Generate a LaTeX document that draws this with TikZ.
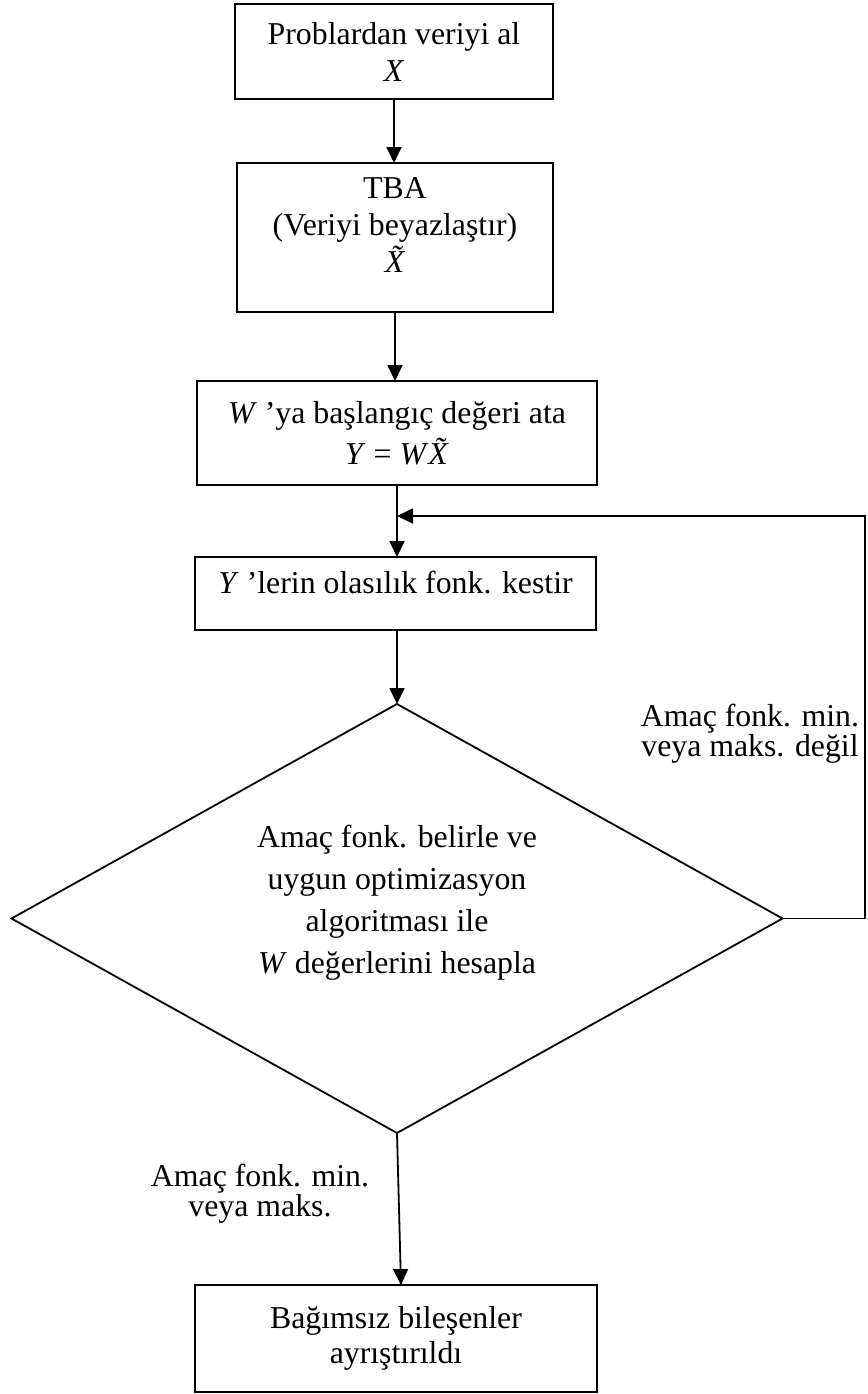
\documentclass[tikz,border=0pt]{standalone}
\usepackage{fontspec}
\setmainfont{Liberation Serif}
\usetikzlibrary{arrows.meta,shapes.geometric}
\newcommand\Xtil{\leavevmode\setbox0\hbox{\textit{X}}\rlap{\hbox to \wd0{\hss\hspace{0.12em}\raisebox{0.16em}{\textit{˜}}\hss}}\box0}
\begin{document}
\begin{tikzpicture}[x=1pt,y=-1pt,
  box/.style={draw, line width=1.8pt, inner sep=0pt, outer sep=0pt, align=center},
  fs/.style={font=\fontsize{31.8}{#1}\selectfont},
  arr/.style={-{Triangle[length=16pt,width=15pt]}, line width=1.8pt},
  lbl/.style={inner sep=0pt, align=center}]
\useasboundingbox (0,0) rectangle (867,1394);
\node[box, fs=37, minimum width=318, minimum height=95] (b1) at (394,51.5) {Problardan veriyi al\\\textit{X}};
\node[box, fs=37, minimum width=316, minimum height=149] (b2) at (395,237.5) {TBA\\(Veriyi beyazlaştır)\\\Xtil\rule[-25pt]{0pt}{25pt}};
\node[box, fs=41, minimum width=400, minimum height=104] (b3) at (397,433) {\textit{W} ’ya başlangıç değeri ata\\\textit{Y} = \textit{W}\Xtil};
\node[box, fs=37, minimum width=401, minimum height=73] (b4) at (395.5,593.5) {\textit{Y} ’lerin olasılık fonk. kestir\rule[-23pt]{0pt}{23pt}};
\node[box, fs=42, shape=diamond, aspect=1.8, minimum width=771, minimum height=429] (dia) at (397,918.5) {Amaç fonk. belirle ve\\uygun optimizasyon\\algoritması ile\\\textit{W} değerlerini hesapla\rule[-39pt]{0pt}{39pt}};
\node[box, fs=35, minimum width=402, minimum height=107] (b5) at (396,1338.5) {Bağımsız bileşenler\\ayrıştırıldı};
\node[lbl, fs=28] (l1) at (750,733.5) {Amaç fonk. min.\\veya maks. değil};
\node[lbl, fs=28] (l2) at (260,1193.5) {Amaç fonk. min.\\veya maks.};
\coordinate (j) at (397,516);
\coordinate (c1) at (865,918.5);
\coordinate (c2) at (865,516);
\draw[arr] (b1.south) -- (b1.south |- b2.north);
\draw[arr] (b2.south) -- (b2.south |- b3.north);
\draw[arr] (b3.south) -- (b3.south |- b4.north);
\draw[arr] (b4.south -| dia.north) -- (dia.north);
\draw[arr] (dia.east) -- (c1) -- (c2) -- (j);
\draw[arr] (dia.south) -- ([xshift=5pt]b5.north);
\end{tikzpicture}
\end{document}
